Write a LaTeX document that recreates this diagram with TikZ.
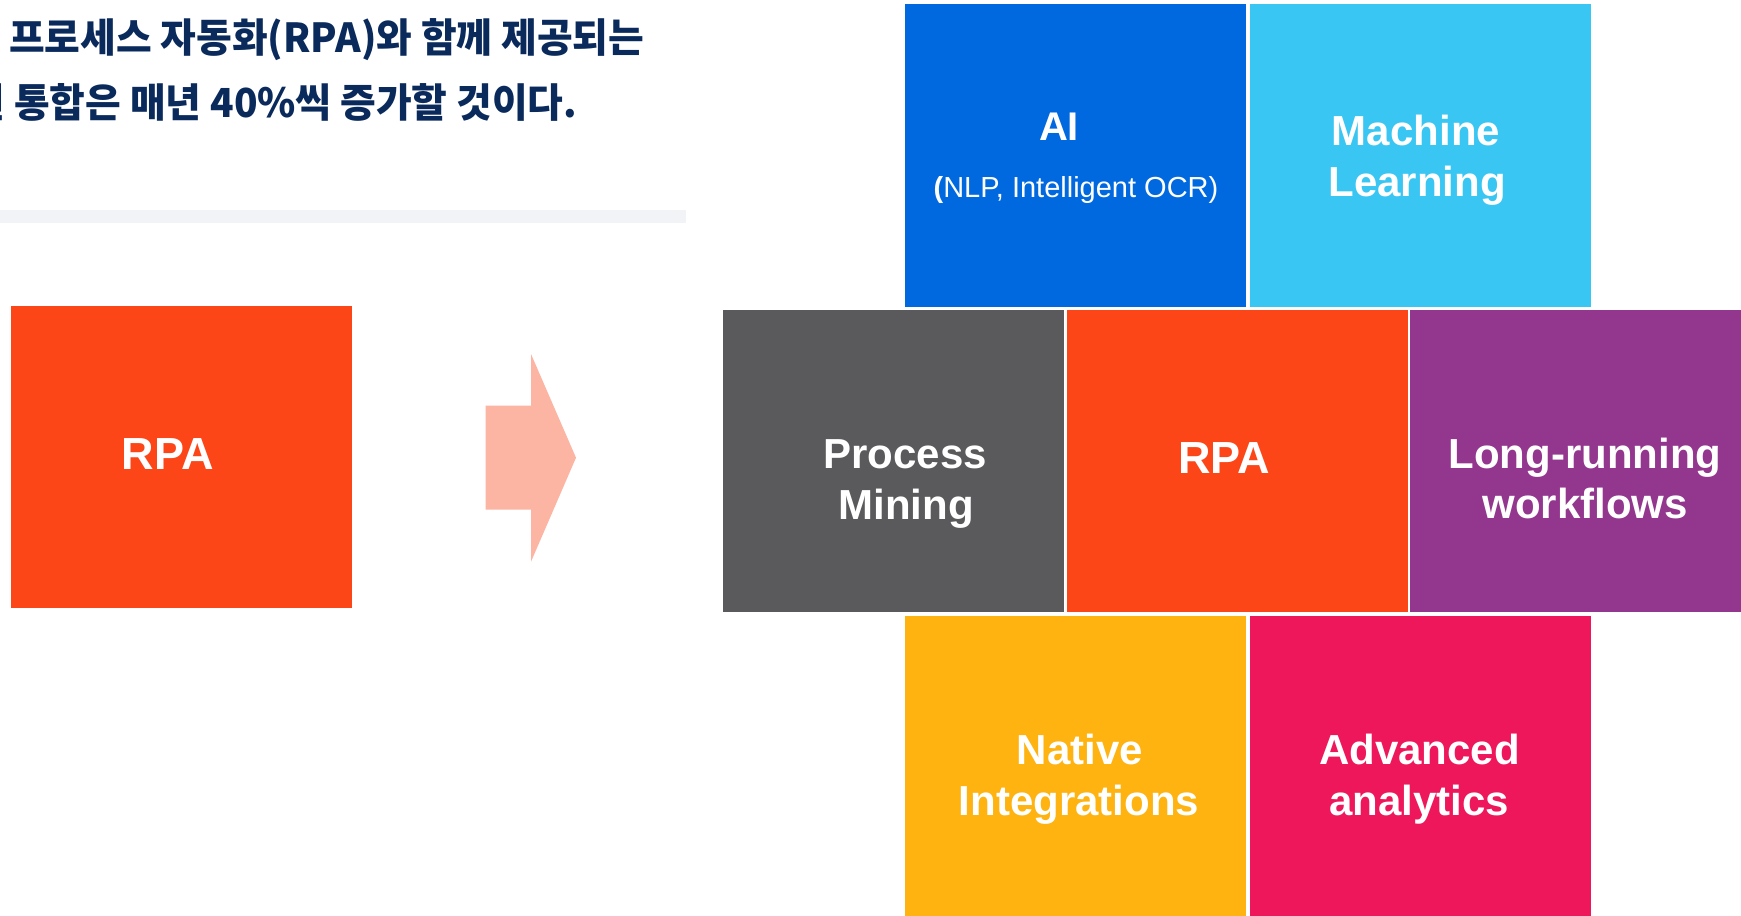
\documentclass[tikz,border=0pt]{standalone}
\usepackage{fontspec}
\setmainfont{Liberation Sans}
\newfontfamily\krfont{Noto Sans CJK KR}
\definecolor{aiblue}{HTML}{0069E0}
\definecolor{mlblue}{HTML}{3AC6F3}
\definecolor{pmgray}{HTML}{5A5A5C}
\definecolor{rpaorange}{HTML}{FC4618}
\definecolor{lrpurple}{HTML}{93368E}
\definecolor{natyellow}{HTML}{FEB310}
\definecolor{advpink}{HTML}{EE175B}
\definecolor{arrowpink}{HTML}{FCB5A3}
\definecolor{titlenavy}{HTML}{0A2A5C}
\definecolor{bargray}{HTML}{F2F3F7}
\tikzset{
  tile/.style={fill=#1, draw=none, inner sep=0pt, outer sep=0pt, anchor=north west},
  lbl/.style={text=white, font=\fontsize{42}{50}\selectfont\bfseries, inner sep=0pt, anchor=base},
  rpalbl/.style={text=white, font=\fontsize{45}{54}\selectfont\bfseries, inner sep=0pt, anchor=base},
  krtitle/.style={text=titlenavy, font=\krfont\bfseries\fontsize{40}{48}\selectfont, inner sep=0pt, anchor=base west},
}
\begin{document}
\begin{tikzpicture}[x=1pt,y=-1pt]
\useasboundingbox (0,0) rectangle (1741,916);
\clip (0,0) rectangle (1741,916);
\fill[white] (0,0) rectangle (1741,916);
% title
\node[krtitle] (title1) at (9,52) {\scalebox{0.97}[1]{프로세스 자동화(RPA)와 함께 제공되는}};
\node[krtitle] (title2) at (-30.6,117) {\scalebox{0.97}[1]{된 통합은 매년 40\%씩 증가할 것이다.}};
% separator bar
\node[tile=bargray, minimum width=686pt, minimum height=13pt] (bar) at (0,210) {};
% left RPA
\node[tile=rpaorange, minimum width=341pt, minimum height=302pt] (rpaL) at (11,306) {};
\node[rpalbl] (rpaLt) at (167.7,469) {RPA};
% arrow
\fill[arrowpink] (485.5,405.7) -- (531,405.7) -- (531,354) -- (576,457.7) -- (531,561.7) -- (531,509.7) -- (485.5,509.7) -- cycle;
% tiles
\node[tile=aiblue, minimum width=341pt, minimum height=302.5pt] (ai) at (905,4) {};
\node[tile=mlblue, minimum width=341pt, minimum height=302.5pt] (ml) at (1250,4) {};
\node[tile=pmgray, minimum width=341pt, minimum height=302pt] (pm) at (723,309.5) {};
\node[tile=rpaorange, minimum width=341pt, minimum height=302pt] (rpa) at (1067,309.5) {};
\node[tile=lrpurple, minimum width=341pt, minimum height=302pt] (lr) at (1410,309.5) {};
\node[tile=natyellow, minimum width=341pt, minimum height=300pt] (nat) at (905,616) {};
\node[tile=advpink, minimum width=341pt, minimum height=300pt] (adv) at (1250,616) {};
% labels
\node[lbl, font=\fontsize{40}{48}\selectfont\bfseries] (ai1) at (1059,140) {AI};
\node[lbl, font=\fontsize{29}{35}\selectfont] (ai2) at (1076,197) {\textbf{(}NLP, Intelligent OCR)};
\node[lbl] (ml1) at (1416,145.5) {Machine};
\node[lbl] (ml2) at (1417,196.5) {Learning};
\node[lbl] (pm1) at (905,468) {Process};
\node[lbl] (pm2) at (906,519) {Mining};
\node[rpalbl] (rpat) at (1224,473.5) {RPA};
\node[lbl] (lr1) at (1585,468) {Long-running};
\node[lbl] (lr2) at (1585,518.5) {workflows};
\node[lbl] (nat1) at (1080,764) {Native};
\node[lbl] (nat2) at (1079,815) {Integrations};
\node[lbl] (adv1) at (1419.5,764) {Advanced};
\node[lbl] (adv2) at (1419,815) {analytics};
\end{tikzpicture}
\end{document}
